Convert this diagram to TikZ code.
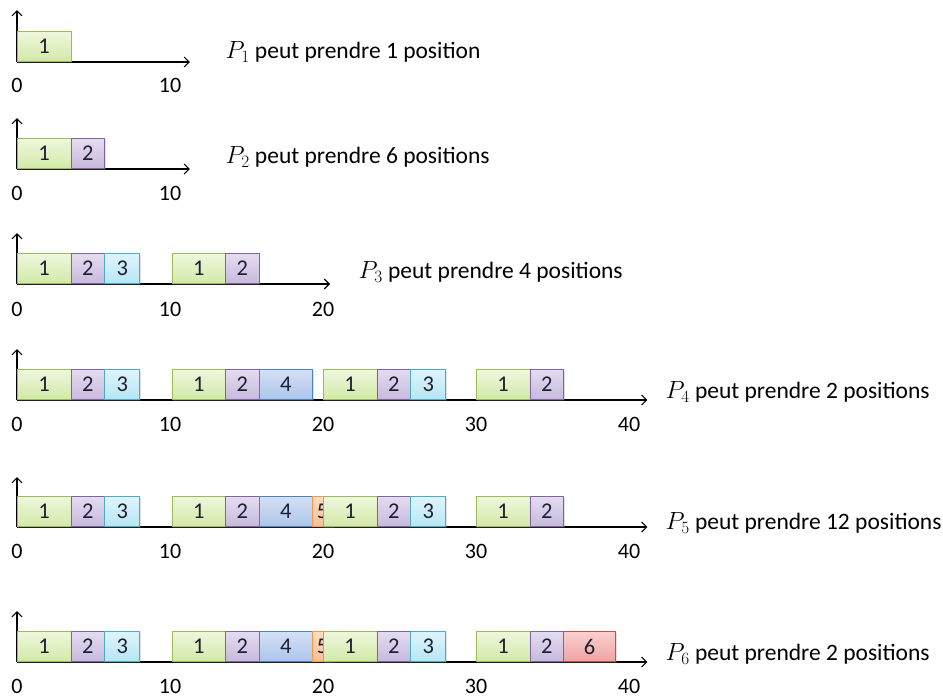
\documentclass[tikz,border=0pt]{standalone}
\usepackage{fontspec}
\setmainfont{Carlito}
\usepackage{xcolor}
\usetikzlibrary{arrows.meta,shadows}

\definecolor{grntop}{HTML}{EEF7DC}
\definecolor{grnbot}{HTML}{D2E9A8}
\definecolor{grnline}{HTML}{9BBB59}
\definecolor{purtop}{HTML}{E4DCF0}
\definecolor{purbot}{HTML}{C7B9DD}
\definecolor{purline}{HTML}{8064A2}
\definecolor{cyntop}{HTML}{DFF4FB}
\definecolor{cynbot}{HTML}{B7E6F3}
\definecolor{cynline}{HTML}{4BACC6}
\definecolor{blutop}{HTML}{D3E0F5}
\definecolor{blubot}{HTML}{ADC4EA}
\definecolor{bluline}{HTML}{4F81BD}
\definecolor{orgtop}{HTML}{FCDCC0}
\definecolor{orgbot}{HTML}{F8C092}
\definecolor{orgline}{HTML}{F79646}
\definecolor{redtop}{HTML}{F8D0CF}
\definecolor{redbot}{HTML}{EEA3A1}
\definecolor{redline}{HTML}{C0504D}
\definecolor{ink}{HTML}{1F1F33}

\begin{document}
\begin{tikzpicture}[x=15.3pt, y=-1pt,
    >={Straight Barb[length=5pt,width=10pt]},
    axis/.style={->, line width=1.1pt},
    cell/.style={line width=0.8pt, anchor=south west, inner sep=0pt,
        minimum height=30pt, text=ink, font=\fontsize{22.5}{24}\selectfont,
        drop shadow={shadow xshift=1pt, shadow yshift=-1.5pt, opacity=0.25}},
    gbox/.style={cell, top color=grntop, bottom color=grnbot, draw=grnline},
    pbox/.style={cell, top color=purtop, bottom color=purbot, draw=purline},
    cbox/.style={cell, top color=cyntop, bottom color=cynbot, draw=cynline},
    bbox/.style={cell, top color=blutop, bottom color=blubot, draw=bluline},
    obox/.style={cell, top color=orgtop, bottom color=orgbot, draw=orgline},
    rbox/.style={cell, top color=redtop, bottom color=redbot, draw=redline},
    tick/.style={font=\fontsize{22}{24}\selectfont},
    note/.style={anchor=west, font=\fontsize{23.5}{28}\selectfont}]

    \useasboundingbox (-1.111,0) rectangle (60.523,697);

    % row 1
    \coordinate (o1) at (0,62);
    \draw[axis] (o1) -- ++(11.3,0);
    \draw[axis] (o1) -- ++(0,-52);
    \foreach \x/\w/\t/\s [count=\i] in {0/3.5/1/gbox}
        \node[\s, minimum width={\w*15.3pt}] (r1b\i) at (\x,62) {\t};
    \foreach \x in {0,10} \node[tick] (r1l\x) at (\x,85) {\x};
    \node[note] (t1) at (13.4,52) {$P_1$ peut prendre 1 position};

    % row 2
    \coordinate (o2) at (0,169);
    \draw[axis] (o2) -- ++(11.3,0);
    \draw[axis] (o2) -- ++(0,-51);
    \foreach \x/\w/\t/\s [count=\i] in {0/3.5/1/gbox, 3.5/2.2/2/pbox}
        \node[\s, minimum width={\w*15.3pt}] (r2b\i) at (\x,169) {\t};
    \foreach \x in {0,10} \node[tick] (r2l\x) at (\x,193) {\x};
    \node[note] (t2) at (13.4,157) {$P_2$ peut prendre 6 positions};

    % row 3
    \coordinate (o3) at (0,284);
    \draw[axis] (o3) -- ++(20.46,0);
    \draw[axis] (o3) -- ++(0,-51);
    \foreach \x/\w/\t/\s [count=\i] in {0/3.5/1/gbox, 3.5/2.2/2/pbox, 5.7/2.3/3/cbox,
        10.1/3.5/1/gbox, 13.6/2.2/2/pbox}
        \node[\s, minimum width={\w*15.3pt}] (r3b\i) at (\x,284) {\t};
    \foreach \x in {0,10,20} \node[tick] (r3l\x) at (\x,309) {\x};
    \node[note] (t3) at (22.1,272) {$P_3$ peut prendre 4 positions};

    % row 4
    \coordinate (o4) at (0,400);
    \draw[axis] (o4) -- ++(41.2,0);
    \draw[axis] (o4) -- ++(0,-51);
    \foreach \x/\w/\t/\s [count=\i] in {0/3.5/1/gbox, 3.5/2.2/2/pbox, 5.7/2.3/3/cbox,
        10.1/3.5/1/gbox, 13.6/2.2/2/pbox, 15.8/3.5/4/bbox,
        20/3.5/1/gbox, 23.5/2.2/2/pbox, 25.7/2.3/3/cbox,
        30/3.5/1/gbox, 33.5/2.2/2/pbox}
        \node[\s, minimum width={\w*15.3pt}] (r4b\i) at (\x,400) {\t};
    \foreach \x in {0,10,20,30,40} \node[tick] (r4l\x) at (\x,424) {\x};
    \node[note] (t4) at (42.16,392) {$P_4$ peut prendre 2 positions};

    % row 5
    \coordinate (o5) at (0,527);
    \draw[axis] (o5) -- ++(41.2,0);
    \draw[axis] (o5) -- ++(0,-50);
    \foreach \x/\w/\t/\s [count=\i] in {0/3.5/1/gbox, 3.5/2.2/2/pbox, 5.7/2.3/3/cbox,
        10.1/3.5/1/gbox, 13.6/2.2/2/pbox, 15.8/3.5/4/bbox, 19.3/1.3/5/obox,
        20/3.5/1/gbox, 23.5/2.2/2/pbox, 25.7/2.3/3/cbox,
        30/3.5/1/gbox, 33.5/2.2/2/pbox}
        \node[\s, minimum width={\w*15.3pt}] (r5b\i) at (\x,527) {\t};
    \foreach \x in {0,10,20,30,40} \node[tick] (r5l\x) at (\x,551) {\x};
    \node[note] (t5) at (42.16,523) {$P_5$ peut prendre 12 positions};

    % row 6
    \coordinate (o6) at (0,662);
    \draw[axis] (o6) -- ++(41.2,0);
    \draw[axis] (o6) -- ++(0,-51);
    \foreach \x/\w/\t/\s [count=\i] in {0/3.5/1/gbox, 3.5/2.2/2/pbox, 5.7/2.3/3/cbox,
        10.1/3.5/1/gbox, 13.6/2.2/2/pbox, 15.8/3.5/4/bbox, 19.3/1.3/5/obox,
        20/3.5/1/gbox, 23.5/2.2/2/pbox, 25.7/2.3/3/cbox,
        30/3.5/1/gbox, 33.5/2.2/2/pbox, 35.7/3.4/6/rbox}
        \node[\s, minimum width={\w*15.3pt}] (r6b\i) at (\x,662) {\t};
    \foreach \x in {0,10,20,30,40} \node[tick] (r6l\x) at (\x,686) {\x};
    \node[note] (t6) at (42.16,654) {$P_6$ peut prendre 2 positions};
\end{tikzpicture}
\end{document}
